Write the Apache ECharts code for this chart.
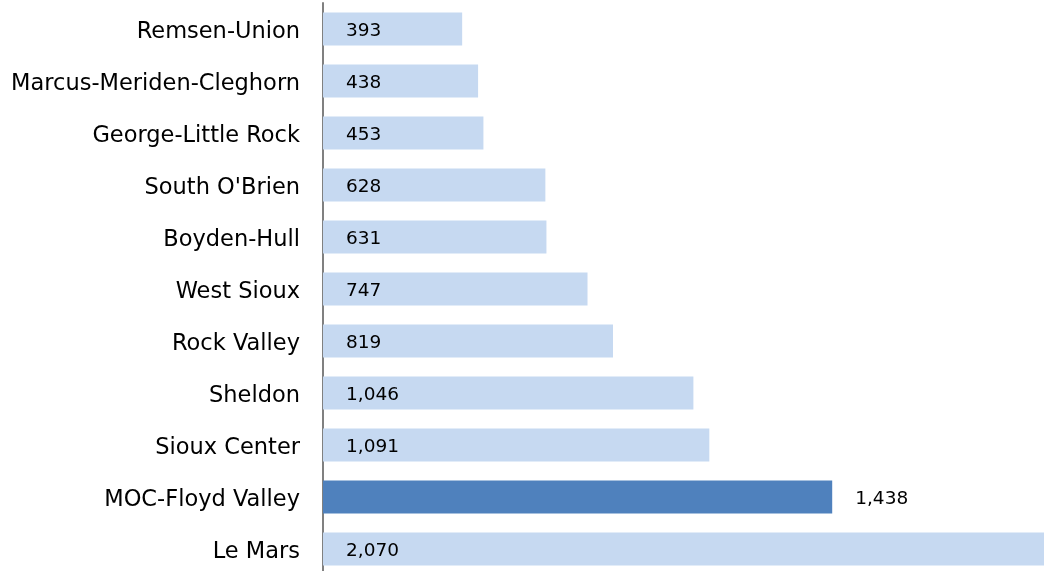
<!DOCTYPE html>
<html><head><meta charset="utf-8">
<script src="https://cdn.jsdelivr.net/npm/echarts@6/dist/echarts.min.js"></script>
<style>html,body{margin:0;padding:0;background:#fff}#c{width:1044px;height:571px}</style>
</head><body><div id="c"></div>
<script>
const categories = ["Remsen-Union","Marcus-Meriden-Cleghorn","George-Little Rock","South O'Brien","Boyden-Hull","West Sioux","Rock Valley","Sheldon","Sioux Center","MOC-Floyd Valley","Le Mars"];
const values = [393,438,453,628,631,747,819,1046,1091,1438,2070];
const highlight = "MOC-Floyd Valley";

const fmt = v => v.toLocaleString('en-US');
const data = values.map((v,i) => {
  const hi = categories[i] === highlight;
  return {
    value: v,
    itemStyle: {color: hi ? '#4F81BD' : '#C6D9F1'},
    label: hi ? {position:'right', distance: 23} : {position:'insideLeft', distance: 23}
  };
});

const chart = echarts.init(document.getElementById('c'));
chart.setOption({
  animation: false,
  grid: {left: 323, top: 3, width: 733, height: 572, containLabel: false, outerBoundsMode: 'none'},
  xAxis: {type:'value', min:0, max:2070, show:false},
  yAxis: {
    type:'category', data: categories, inverse: true,
    axisLine: {show:true, lineStyle:{color:'#808080', width:2}},
    axisTick: {show:false},
    axisLabel: {
      color:'#000', margin:23,
      formatter: v => '{a|' + v + '}',
      rich: {a: {fontFamily:'DejaVu Sans', fontSize:22.5, color:'#000', padding:[6,0,0,0]}}
    }
  },
  series: [{
    type:'bar', data: data, barWidth: 33,
    label: {show:true, fontFamily:'DejaVu Sans', fontSize:18.5, color:'#000', offset:[0,2], formatter: p => fmt(p.value)}
  }]
});
</script></body></html>
